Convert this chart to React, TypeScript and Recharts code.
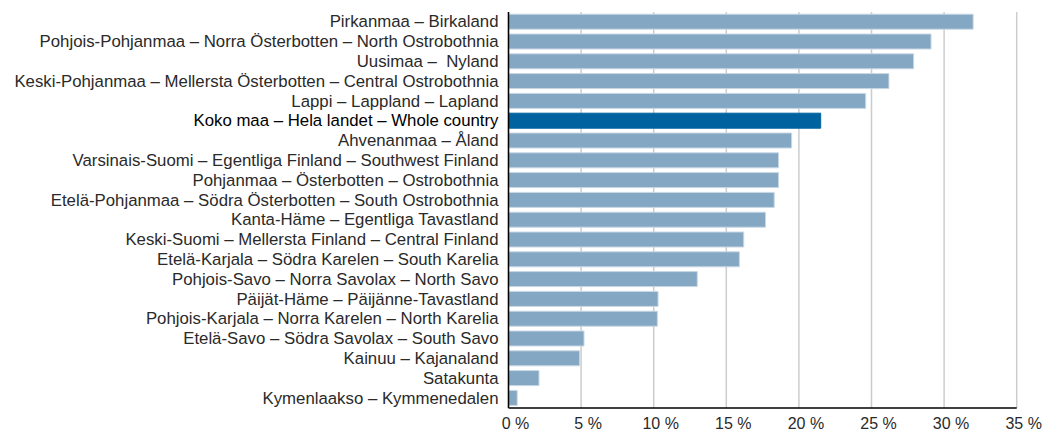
import React from 'react';
import { BarChart, Bar, XAxis, YAxis, CartesianGrid, Cell } from 'recharts';

const regions = [
  'Pirkanmaa – Birkaland',
  'Pohjois-Pohjanmaa – Norra Österbotten – North Ostrobothnia',
  'Uusimaa –  Nyland',
  'Keski-Pohjanmaa – Mellersta Österbotten – Central Ostrobothnia',
  'Lappi – Lappland – Lapland',
  'Koko maa – Hela landet – Whole country',
  'Ahvenanmaa – Åland',
  'Varsinais-Suomi – Egentliga Finland – Southwest Finland',
  'Pohjanmaa – Österbotten – Ostrobothnia',
  'Etelä-Pohjanmaa – Södra Österbotten – South Ostrobothnia',
  'Kanta-Häme – Egentliga Tavastland',
  'Keski-Suomi – Mellersta Finland – Central Finland',
  'Etelä-Karjala – Södra Karelen – South Karelia',
  'Pohjois-Savo – Norra Savolax – North Savo',
  'Päijät-Häme – Päijänne-Tavastland',
  'Pohjois-Karjala – Norra Karelen – North Karelia',
  'Etelä-Savo – Södra Savolax – South Savo',
  'Kainuu – Kajanaland',
  'Satakunta',
  'Kymenlaakso – Kymmenedalen',
];

const shares = [32.0, 29.1, 27.9, 26.2, 24.6, 21.5, 19.5, 18.6, 18.6, 18.3, 17.7, 16.2, 15.9, 13.0, 10.3, 10.25, 5.2, 4.9, 2.1, 0.6];

const highlight = 'Koko maa – Hela landet – Whole country';

const xTicks = [0, 5, 10, 15, 20, 25, 30, 35];

const data = regions.map((r, i) => ({ region: r, value: shares[i] }));

const FONT = '"Liberation Sans", Arial, sans-serif';

const YTick = (props: any) => {
  const { x, y, payload } = props;
  const hl = payload.value === highlight;
  return (
    <text
      x={x}
      y={y}
      dy={5.5}
      textAnchor="end"
      fontFamily={FONT}
      fontSize={16.8}
      fill={hl ? '#000' : '#2a2a2a'}
      fontWeight={hl ? 500 : 400}
      style={{ whiteSpace: 'pre' }}
    >
      {payload.value}
    </text>
  );
};

const XTick = (props: any) => {
  const { x, y, payload } = props;
  return (
    <text x={x + 7} y={y} dy={13} textAnchor="middle" fontFamily={FONT} fontSize={16} fill="#2a2a2a">
      {`${payload.value} %`}
    </text>
  );
};

export default function App() {
  return (
    <>
      <style>{'html,body{margin:0;padding:0;overflow:hidden;}'}</style>
      <BarChart
        width={1043}
        height={432}
        data={data}
        layout="vertical"
        margin={{ top: 12, right: 26.3, bottom: 0, left: 0 }}
        barCategoryGap={2.2}
      >
        <CartesianGrid horizontal={false} stroke="#cccccc" strokeWidth={1.5} />
        <XAxis
          type="number"
          domain={[0, 35]}
          ticks={xTicks}
          interval={0}
          height={24}
          tickLine={false}
          axisLine={{ stroke: '#000', strokeWidth: 1.5 }}
          tick={<XTick />}
        />
        <YAxis
          type="category"
          dataKey="region"
          width={508.5}
          interval={0}
          tickLine={false}
          tickSize={8}
          axisLine={{ stroke: '#000', strokeWidth: 1.5 }}
          tick={<YTick />}
        />
        <Bar dataKey="value" isAnimationActive={false} stroke="#c8d7e4" strokeWidth={1}>
          {data.map((d) => (
            <Cell
              key={d.region}
              fill={d.region === highlight ? '#0063a0' : '#84a7c3'}
              stroke={d.region === highlight ? '#0063a0' : '#c8d7e4'}
            />
          ))}
        </Bar>
      </BarChart>
    </>
  );
}
